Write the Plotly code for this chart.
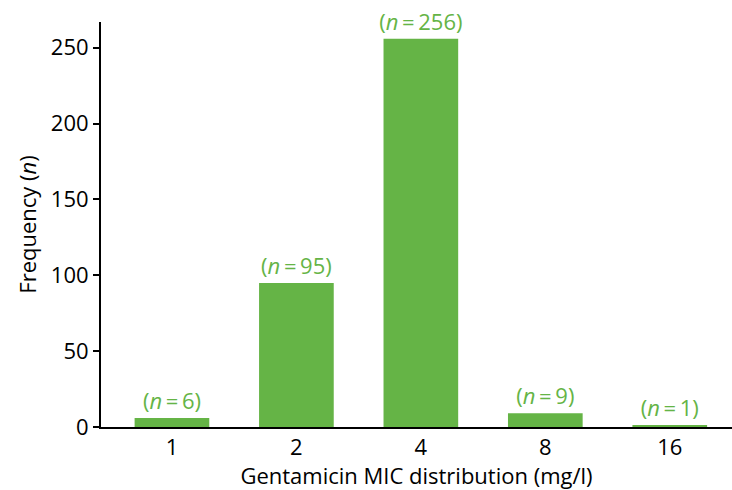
import plotly.graph_objects as go

categories = ["1", "2", "4", "8", "16"]
counts = [6, 95, 256, 9, 1]
labels = ["(<i>n</i>\u2009=\u20096)", "(<i>n</i>\u2009=\u200995)", "(<i>n</i>\u2009=\u2009256)",
          "(<i>n</i>\u2009=\u20099)", "(<i>n</i>\u2009=\u20091)"]

green = "#65b446"
font = "Open Sans"
fs = 22

fig = go.Figure()
fig.add_trace(go.Bar(
    x=list(range(len(categories))), y=counts,
    marker=dict(color=green, line=dict(width=0)),
    width=0.6,
    text=labels, textposition="outside",
    textfont=dict(color=green, size=fs, family=font),
    constraintext="none",
    cliponaxis=False,
))

fig.update_layout(
    width=732, height=490,
    margin=dict(l=101, r=0, t=22, b=63),
    plot_bgcolor="white", paper_bgcolor="white",
    font=dict(family=font, size=fs, color="black"),
    showlegend=False,
)
fig.update_xaxes(
    tickmode="array", tickvals=list(range(len(categories))), ticktext=categories,
    range=[-0.57, 4.5],
    showline=True, linecolor="black", linewidth=2,
    ticks="", showgrid=False, zeroline=False, automargin=False,
    tickfont=dict(size=fs),
    title=dict(text="Gentamicin MIC distribution (mg/l)", standoff=4, font=dict(size=fs)),
)
fig.update_yaxes(
    range=[0, 267], tickvals=[0, 50, 100, 150, 200, 250],
    showline=True, linecolor="black", linewidth=2,
    ticks="outside", ticklen=6, tickwidth=2, tickcolor="black",
    showgrid=False, zeroline=False, automargin=False,
    tickfont=dict(size=fs),
    title=dict(text="Frequency (<i>n</i>)", standoff=8, font=dict(size=fs)),
)

fig.write_html("out.html", config={"displayModeBar": False},
               post_script="document.body.style.margin='0';document.body.style.overflow='hidden';")
